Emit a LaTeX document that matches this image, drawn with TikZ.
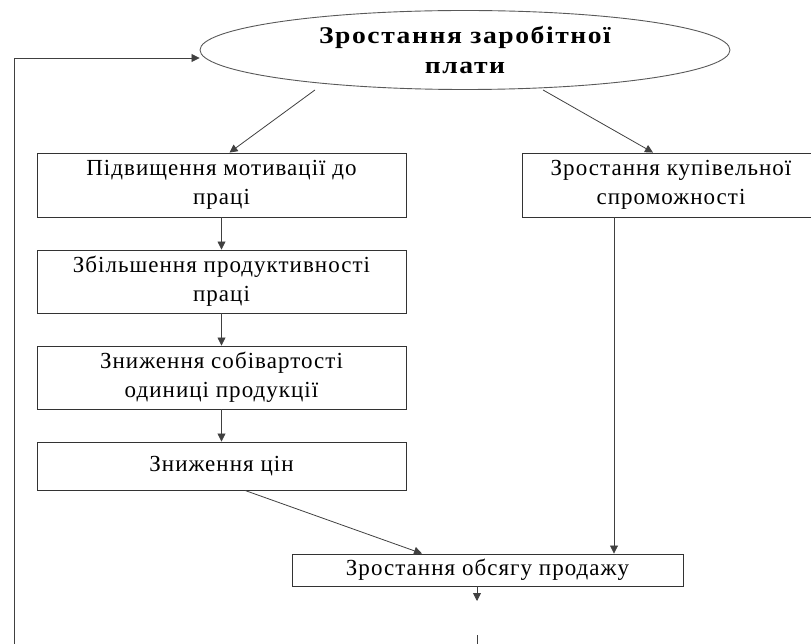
\documentclass[tikz,border=0pt]{standalone}
\usepackage{fontspec}
\setmainfont{Liberation Serif}
\newfontfamily\boxfont[LetterSpace=4.5]{Liberation Serif}
\newfontfamily\ovalfont[FakeStretch=1.15, LetterSpace=6.5]{Liberation Serif}
\usetikzlibrary{arrows.meta, positioning, shapes.geometric}

\begin{document}
\begin{tikzpicture}[
    x=1pt, y=-1pt,
    >={Triangle[length=8pt, width=8pt]},
    box/.style={draw=black!80, line width=0.9pt, fill=white,
                minimum width=369pt, minimum height=63pt,
                align=center, inner sep=0pt,
                font=\fontsize{23}{29}\boxfont},
    oval/.style={ellipse, draw=black!65, line width=0.9pt,
                minimum width=530pt, minimum height=79pt,
                align=center, inner sep=0pt,
                font=\fontsize{24}{30}\ovalfont\bfseries},
    arr/.style={->, line width=0.8pt, black!75},
]
\path[use as bounding box, clip] (0,0) rectangle (811,644);

\node[oval] (wage)  at (465,  50)   {Зростання заробітної\\плати};
\node[box]  (motiv) at (221.5,185)  [minimum height=64pt] {Підвищення мотивації до\\праці};
\node[box]  (prod)  at (221.5,281.5) {Збільшення продуктивності\\праці};
\node[box]  (cost)  at (221.5,377.5) {Зниження собівартості\\одиниці продукції};
\node[box]  (price) at (221.5,466)  [minimum height=48pt] {Зниження цін};
\node[box]  (buy)   at (671,  185)  [minimum width=298pt, minimum height=64pt] {Зростання купівельної\\спроможності};
\node[box]  (sales) at (487.5,570)  [minimum width=391pt, minimum height=32pt] {Зростання обсягу продажу};

\coordinate (next)    at (477,601);
\coordinate (nexttop) at (477,635);
\coordinate (nextbot) at (477,644);
\coordinate (loop)    at (14, 644);

\draw[arr] ([xshift=-150pt]wage.south) -- ([xshift=8pt]motiv.north);
\draw[arr] ([xshift=78pt]wage.south)   -- ([xshift=-18pt]buy.north);
\draw[arr] (motiv) -- (prod);
\draw[arr] (prod)  -- (cost);
\draw[arr] (cost)  -- (price);
\draw[arr] ([xshift=23.5pt]price.south) -- ([xshift=-65.5pt]sales.north);
\draw[arr] ([xshift=-57pt]buy.south) -- ([xshift=-57pt]buy.south |- sales.north);
\draw[arr] (sales.south -| next) -- (next);
\draw[line width=0.8pt, black!75] (nexttop) -- (nextbot);
\draw[arr] (loop) |- ([yshift=-8pt]wage.west);
\end{tikzpicture}
\end{document}
